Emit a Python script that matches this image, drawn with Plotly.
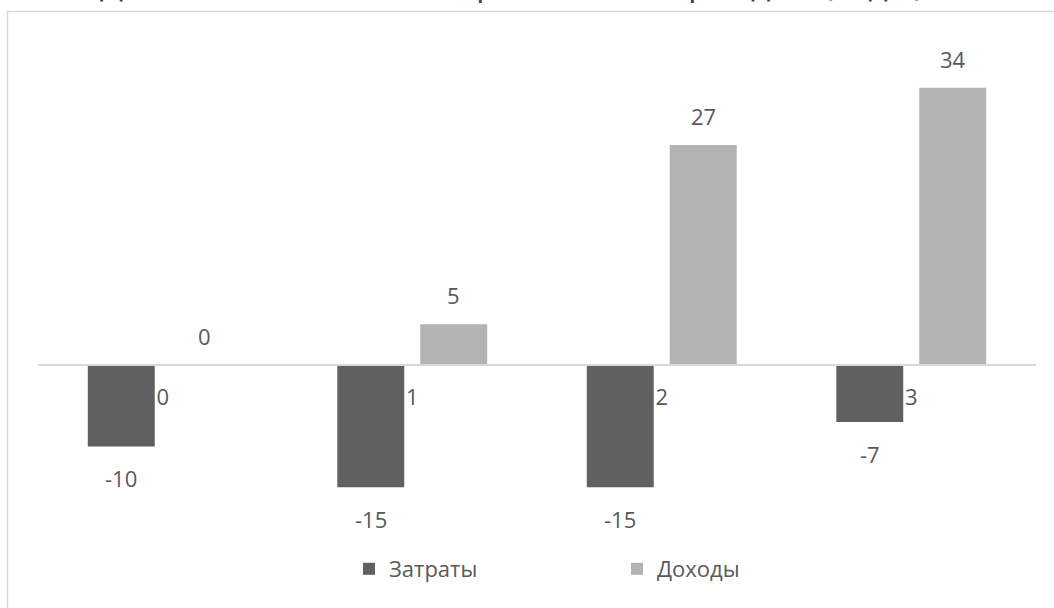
import plotly.graph_objects as go

categories = ["0", "1", "2", "3"]
costs = [-10, -15, -15, -7]
income = [0, 5, 27, 34]
series_names = ["Затраты", "Доходы"]
title_text = "Денежные потоки от проекта по периодам (годы)"

DARK = "#606060"
LIGHT = "#b3b3b3"
TXT = "#595959"
FONT = "Open Sans"

W, H = 1054, 608
ML, MR, MT, MB = 38, 18, 30, 78
plot_h = H - MT - MB
plot_w = W - ML - MR
y_range = [-20.25, 41.1]
zero_pos = (0 - y_range[0]) / (y_range[1] - y_range[0])

fig = go.Figure()
fig.add_trace(go.Bar(x=categories, y=costs, name=series_names[0],
                     marker=dict(color=DARK, line=dict(width=0))))
fig.add_trace(go.Bar(x=categories, y=income, name=series_names[1],
                     marker=dict(color=LIGHT, line=dict(width=0))))

def px_x(p):
    return (p - ML) / plot_w

def px_y(p):
    return (H - MB - p) / plot_h

half = 166 / 4
annotations = []
for c, v in zip(categories, costs):
    annotations.append(dict(x=c, y=v, xref="x", yref="y", text=str(v), showarrow=False,
                            xshift=-half, yshift=-15 if v < 0 else 12,
                            yanchor="top" if v < 0 else "bottom",
                            font=dict(size=22, color=TXT, family=FONT)))
for c, v in zip(categories, income):
    annotations.append(dict(x=c, y=v, xref="x", yref="y", text=str(v), showarrow=False,
                            xshift=half, yshift=-15 if v < 0 else 12,
                            yanchor="top" if v < 0 else "bottom",
                            font=dict(size=22, color=TXT, family=FONT)))
# chart title (partly above the visible page, as in the reference)
annotations.append(dict(x=px_x(512), y=px_y(6), xref="paper", yref="paper",
                        text=title_text, showarrow=False, xanchor="center",
                        yanchor="bottom", borderpad=0,
                        font=dict(size=34, color="#404040", family=FONT)))

fig.update_layout(
    width=W, height=H,
    margin=dict(l=ML, r=MR, t=MT, b=MB),
    paper_bgcolor="white", plot_bgcolor="white",
    barmode="group", bargap=0.335, bargroupgap=0.193,
    font=dict(family=FONT, color=TXT, size=22),
    xaxis=dict(type="category", anchor="free", position=zero_pos,
               showline=True, linecolor="#d9d9d9", linewidth=1.5,
               ticks="outside", ticklen=13, tickcolor="rgba(0,0,0,0)",
               tickfont=dict(size=22, color=TXT, family=FONT),
               showgrid=False, zeroline=False),
    yaxis=dict(range=y_range, visible=False, showgrid=False, zeroline=False),
    showlegend=True,
    legend=dict(orientation="h", x=px_x(617), xanchor="center",
                y=px_y(569), yanchor="middle",
                font=dict(size=22, color=TXT, family=FONT),
                entrywidth=223, entrywidthmode="pixels", itemwidth=30,
                traceorder="normal"),
    annotations=annotations,
    shapes=[dict(type="rect", xref="paper", yref="paper",
                 x0=px_x(7.5), x1=px_x(1070), y0=px_y(11.5), y1=px_y(640),
                 line=dict(color="#d9d9d9", width=1.5), fillcolor="rgba(0,0,0,0)",
                 layer="below")],
)

fig.write_html("out.html")
